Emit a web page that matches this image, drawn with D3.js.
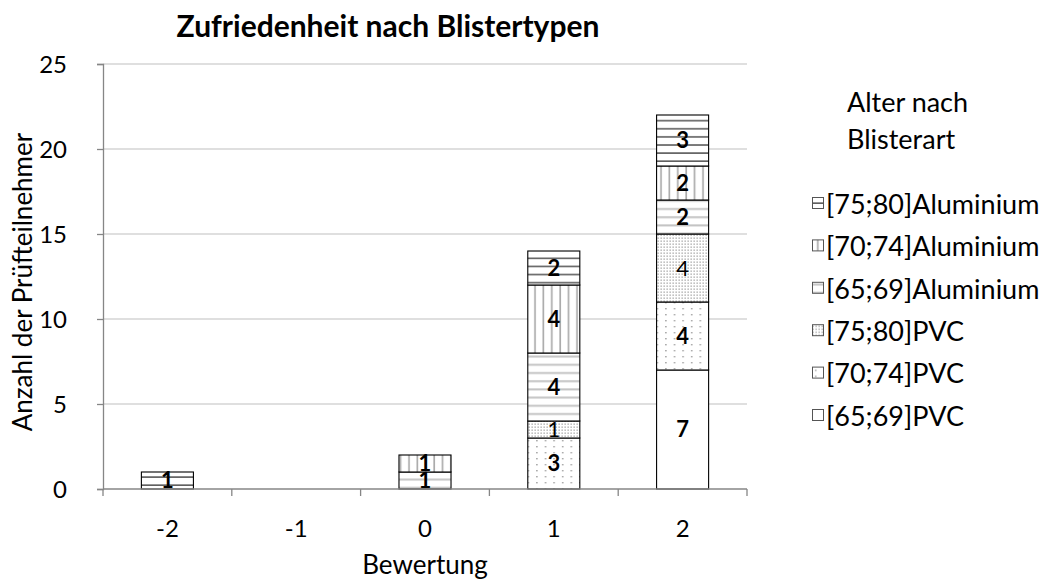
<!DOCTYPE html>
<html>
<head>
<meta charset="utf-8">
<script src="https://cdn.jsdelivr.net/npm/d3@7"></script>
<style>
  html, body { margin: 0; padding: 0; background: #fff; }
  svg { display: block; font-family: Lato, "Open Sans", sans-serif; }
</style>
</head>
<body>
<svg id="chart" width="1059" height="583"></svg>
<script>
// Ratings on the x axis
const categories = ["-2", "-1", "0", "1", "2"];

// Series (age group + blister material), stacked bottom to top
const seriesNames = [
  "[65;69]PVC",
  "[70;74]PVC",
  "[75;80]PVC",
  "[65;69]Aluminium",
  "[70;74]Aluminium",
  "[75;80]Aluminium"
];

// Participant counts per rating, one array per series
const pvc6569 = [0, 0, 0, 0, 7];
const pvc7074 = [0, 0, 0, 3, 4];
const pvc7580 = [0, 0, 0, 1, 4];
const alu6569 = [0, 0, 1, 4, 2];
const alu7074 = [0, 0, 1, 4, 2];
const alu7580 = [1, 0, 0, 2, 3];

const yTicks = [0, 5, 10, 15, 20, 25];

const seriesValues = [pvc6569, pvc7074, pvc7580, alu6569, alu7074, alu7580];
const table = categories.map((c, i) => {
  const row = { cat: c };
  seriesNames.forEach((s, k) => { row[s] = seriesValues[k][i]; });
  return row;
});

const svg = d3.select("#chart");
const margin = { left: 103, right: 747, top: 64, bottom: 489 };

const x = d3.scaleBand()
  .domain(categories)
  .range([margin.left, margin.right])
  .paddingInner(0.596)
  .paddingOuter(0.298);

const y = d3.scaleLinear()
  .domain([0, 25])
  .range([margin.bottom, margin.top]);

// Fill patterns
const defs = svg.append("defs");
const patId = k => "pat" + k;

// white
defs.append("pattern").attr("id", patId(0)).attr("patternUnits", "userSpaceOnUse")
  .attr("width", 8).attr("height", 8)
  .append("rect").attr("width", 8).attr("height", 8).attr("fill", "#fff");

// sparse dots
{
  const p = defs.append("pattern").attr("id", patId(1)).attr("patternUnits", "userSpaceOnUse")
    .attr("width", 8.6).attr("height", 12);
  p.append("rect").attr("width", 8.6).attr("height", 12).attr("fill", "#fff");
  p.append("rect").attr("x", 3).attr("y", 2).attr("width", 1.4).attr("height", 1.4).attr("fill", "#9a9a9a");
  p.append("rect").attr("x", 3).attr("y", 8).attr("width", 1.4).attr("height", 1.4).attr("fill", "#9a9a9a");
}

// dense dots
{
  const p = defs.append("pattern").attr("id", patId(2)).attr("patternUnits", "userSpaceOnUse")
    .attr("width", 3).attr("height", 3);
  p.append("rect").attr("width", 3).attr("height", 3).attr("fill", "#fff");
  p.append("rect").attr("x", 0.5).attr("y", 0.5).attr("width", 1.3).attr("height", 1.3).attr("fill", "#a0a0a0");
}

// light horizontal lines
{
  const p = defs.append("pattern").attr("id", patId(3)).attr("patternUnits", "userSpaceOnUse")
    .attr("width", 8).attr("height", 8.2);
  p.append("rect").attr("width", 8).attr("height", 8.2).attr("fill", "#fff");
  p.append("rect").attr("x", 0).attr("y", 3).attr("width", 8).attr("height", 2).attr("fill", "#c4c4c4");
}

// vertical lines
{
  const p = defs.append("pattern").attr("id", patId(4)).attr("patternUnits", "userSpaceOnUse")
    .attr("width", 8.4).attr("height", 8);
  p.append("rect").attr("width", 8.4).attr("height", 8).attr("fill", "#fff");
  p.append("rect").attr("x", 5).attr("y", 0).attr("width", 1.6).attr("height", 8).attr("fill", "#a8a8a8");
}

// dark horizontal lines
{
  const p = defs.append("pattern").attr("id", patId(5)).attr("patternUnits", "userSpaceOnUse")
    .attr("width", 8).attr("height", 8.1);
  p.append("rect").attr("width", 8).attr("height", 8.1).attr("fill", "#fff");
  p.append("rect").attr("x", 0).attr("y", 6.5).attr("width", 8).attr("height", 2).attr("fill", "#5e5e5e");
}

// Grid lines
svg.append("g")
  .selectAll("line")
  .data(yTicks.filter(t => t > 0))
  .join("line")
  .attr("x1", margin.left).attr("x2", margin.right)
  .attr("y1", d => y(d)).attr("y2", d => y(d))
  .attr("stroke", "#d4d4d4").attr("stroke-width", 1.3);

// Y axis
const yAxis = svg.append("g")
  .attr("transform", `translate(${margin.left},0)`)
  .call(d3.axisLeft(y).tickValues(yTicks).tickSize(6).tickPadding(30));
yAxis.select(".domain").attr("stroke", "#868686").attr("stroke-width", 1.3);
yAxis.selectAll(".tick line").attr("stroke", "#868686").attr("stroke-width", 1.3);
yAxis.selectAll(".tick text")
  .attr("font-family", "Lato, sans-serif")
  .attr("font-size", 24).attr("fill", "#000").attr("dy", "0.36em");

// Stacked bars
const stack = d3.stack().keys(seriesNames);
const layers = stack(table);

const layerG = svg.append("g")
  .selectAll("g")
  .data(layers)
  .join("g")
  .attr("fill", (d, k) => `url(#${patId(k)})`);

layerG.selectAll("rect")
  .data(d => d.filter(s => s[1] - s[0] > 0))
  .join("rect")
  .attr("x", d => x(d.data.cat))
  .attr("width", x.bandwidth())
  .attr("y", d => y(d[1]))
  .attr("height", d => y(d[0]) - y(d[1]))
  .attr("stroke", "#000")
  .attr("stroke-width", 1.1);

// Value labels
layerG.each(function (layer, k) {
  d3.select(this).selectAll("text")
    .data(layer.filter(s => s[1] - s[0] > 0))
    .join("text")
    .attr("x", d => x(d.data.cat) + x.bandwidth() / 2)
    .attr("y", d => (y(d[0]) + y(d[1])) / 2)
    .attr("dy", "0.36em")
    .attr("text-anchor", "middle")
    .attr("font-size", 22)
    .attr("font-weight", k === 2 ? "normal" : "bold")
    .attr("fill", "#000")
    .text(d => d[1] - d[0]);
});

// X axis (ticks between categories)
const xAxisG = svg.append("g");
xAxisG.append("line")
  .attr("x1", margin.left).attr("x2", margin.right)
  .attr("y1", y(0)).attr("y2", y(0))
  .attr("stroke", "#868686").attr("stroke-width", 1.3);
const half = (x.step() - x.bandwidth()) / 2;
const boundaries = categories.map(c => x(c) - half).concat([x(categories[categories.length - 1]) + x.bandwidth() + half]);
xAxisG.selectAll(".bt")
  .data(boundaries)
  .join("line")
  .attr("class", "bt")
  .attr("x1", d => d).attr("x2", d => d)
  .attr("y1", y(0)).attr("y2", y(0) + 7)
  .attr("stroke", "#868686").attr("stroke-width", 1.3);
xAxisG.selectAll("text")
  .data(categories)
  .join("text")
  .attr("x", d => x(d) + x.bandwidth() / 2)
  .attr("y", 537)
  .attr("text-anchor", "middle")
  .attr("font-size", 24)
  .attr("fill", "#000")
  .text(d => d);

// Axis titles
svg.append("text")
  .attr("x", (margin.left + margin.right) / 2)
  .attr("y", 574)
  .attr("text-anchor", "middle")
  .attr("font-size", 26)
  .text("Bewertung");

svg.append("text")
  .attr("transform", `translate(32,282) rotate(-90)`)
  .attr("text-anchor", "middle")
  .attr("font-size", 26)
  .text("Anzahl der Prüfteilnehmer");

// Chart title
svg.append("text")
  .attr("x", 388)
  .attr("y", 37)
  .attr("text-anchor", "middle")
  .attr("font-size", 30)
  .attr("font-weight", "bold")
  .text("Zufriedenheit nach Blistertypen");

// Legend
const legend = svg.append("g");
legend.append("text").attr("x", 847).attr("y", 112).attr("font-size", 27).text("Alter nach");
legend.append("text").attr("x", 847).attr("y", 149).attr("font-size", 27).text("Blisterart");

const legendOrder = seriesNames.map((s, k) => ({ name: s, k })).reverse();
const item = legend.selectAll(".item")
  .data(legendOrder)
  .join("g")
  .attr("class", "item")
  .attr("transform", (d, i) => `translate(812,${204 + i * 42.4})`);
item.append("rect")
  .attr("x", 0.5).attr("y", -6.5)
  .attr("width", 11).attr("height", 11)
  .attr("fill", d => `url(#${patId(d.k)})`)
  .attr("stroke", "#555").attr("stroke-width", 1);
item.append("text")
  .attr("x", 14).attr("y", 0)
  .attr("dy", "0.36em")
  .attr("font-size", 27)
  .text(d => d.name);
</script>
</body>
</html>
